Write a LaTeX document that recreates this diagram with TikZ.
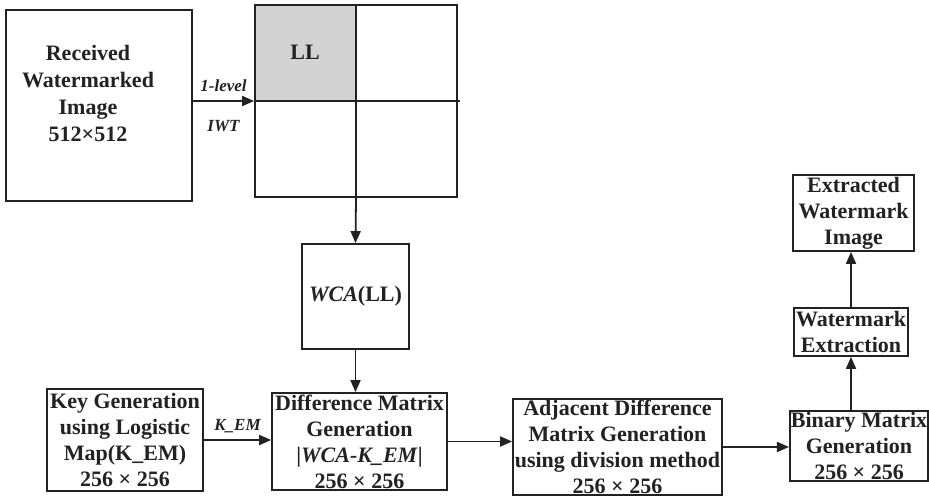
\documentclass[tikz,border=0pt]{standalone}
\usepackage{fontspec}
\setmainfont{Liberation Serif}
\usepackage{tikz}
\usetikzlibrary{arrows.meta, positioning, backgrounds, calc}
\definecolor{lineGray}{RGB}{34,34,34}
\definecolor{cellGray}{RGB}{211,211,211}
\tikzset{
  wm/box/.style={rectangle, draw=lineGray, fill=white, line width=0.9pt,
    inner sep=0.5pt, align=center,
    font=\fontsize{11}{13}\selectfont\bfseries\color{lineGray}},
  wm/txt/.style={rectangle, inner sep=0pt, align=center,
    font=\fontsize{11}{13.5}\selectfont\bfseries\color{lineGray}},
  wm/arr/.style={-{Triangle[length=6pt,width=5pt]}, line width=0.9pt,
    draw=lineGray},
  wm/lbl/.style={font=\fontsize{8.5}{9}\selectfont\bfseries\itshape\color{lineGray},
    inner sep=1pt}
}

\begin{document}
\begin{tikzpicture}[x=0.5pt, y=-0.5pt]
  \useasboundingbox (0,0) rectangle (929,497);
  % input image and 1-level IWT sub-bands
  \node[wm/box, minimum width=93pt, minimum height=95.5pt] (recv) at (99,105.5) {};
  \node[wm/txt] (recvtxt) at (88,93) {Received\\Watermarked\\Image\\512×512};
  \node[wm/box, fill=none, minimum width=101pt, minimum height=96pt] (grid) at (356,101) {};
  \begin{pgfonlayer}{background}
    \fill[cellGray] (grid.north west) rectangle (grid.center);
  \end{pgfonlayer}
  \node[wm/txt] (ll) at ($(grid.north west)!0.5!(grid.center)$) {LL};
  \draw[lineGray, line width=0.9pt] (grid.north) -- (grid.south);
  \draw[lineGray, line width=0.9pt] (grid.west) -- ([xshift=1pt]grid.east);

  \node[wm/box, minimum width=53.5pt, minimum height=52.5pt] (wca) at (355.5,296.5) {\textit{WCA}(LL)};

  % bottom row
  \node[wm/box, minimum width=78pt, minimum height=51pt] (key) at (125,440)
        {Key Generation\\using Logistic\\Map(K\_EM)\\256 × 256};
  \node[wm/box, minimum width=87.5pt, minimum height=48.5pt] (diff) at (359.5,441.5)
        {Difference Matrix\\Generation\\|\textit{WCA-K\_EM}|\\256 × 256};
  \node[wm/box, minimum width=104.5pt, minimum height=48pt] (adj) at (617.5,447)
        {Adjacent Difference\\Matrix Generation\\using division method\\256 × 256};
  \node[wm/box, minimum width=68pt, minimum height=32pt] (bin) at (859,446)
        {Binary Matrix\\Generation\\256 × 256};
  \node[wm/box, minimum width=57pt, minimum height=24pt] (wext) at (851,332)
        {Watermark\\Extraction};
  \node[wm/box, minimum width=60.5pt, minimum height=38pt] (extr) at (853.5,213)
        {Extracted\\Watermark\\Image};

  \draw[wm/arr] (recv.east |- grid.west) -- (grid.west)
        node[wm/lbl, midway, above=3pt]{1-level}
        node[wm/lbl, midway, below=8pt]{IWT};
  \draw[wm/arr] (grid.south) -- (wca.north);
  \draw[wm/arr] (wca.south) -- (wca.south |- diff.north);
  \draw[wm/arr] (key.east) -- node[wm/lbl, above=2pt]{K\_EM} (key.east -| diff.west);
  \draw[wm/arr] (diff.east) -- (diff.east -| adj.west);
  \draw[wm/arr] (adj.east) -- (adj.east -| bin.west);
  \draw[wm/arr] (wext.south |- bin.north) -- (wext.south);
  \draw[wm/arr] (wext.north) -- (wext.north |- extr.south);
\end{tikzpicture}
\end{document}
